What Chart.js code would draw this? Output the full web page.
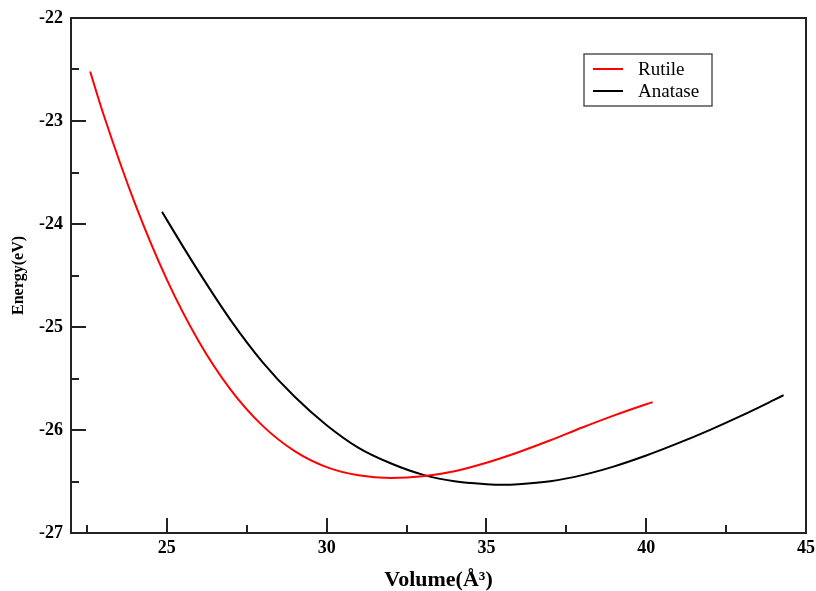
<!DOCTYPE html>
<html>
<head>
<meta charset="utf-8">
<script src="https://cdn.jsdelivr.net/npm/chart.js@4.4.1/dist/chart.umd.min.js"></script>
<style>
    html, body { margin: 0; padding: 0; background: #fff; }
    #wrap { width: 816px; height: 591px; }
</style>
</head>
<body>
<div id="wrap"><canvas id="eosChart" width="816" height="591"></canvas></div>
<script>
// Volume (A^3) / energy (eV)
const rutileV = [22.6, 23, 24, 25, 26, 27, 28, 29, 30, 31, 32, 33, 34, 35, 36, 37, 38, 39, 40, 40.2];
const rutileE = [-22.52, -22.92, -23.80, -24.54, -25.14, -25.61, -25.96, -26.205, -26.36, -26.44, -26.465, -26.45, -26.40, -26.318, -26.216, -26.10, -25.976, -25.858, -25.75, -25.73];

const anataseV = [24.85, 25, 26, 27, 28, 29, 30, 31, 32, 33, 34, 35, 35.5, 36, 37, 38, 39, 40, 41, 42, 43, 44, 44.3];
const anataseE = [-23.88, -23.96, -24.465, -24.935, -25.343, -25.678, -25.953, -26.173, -26.323, -26.433, -26.498, -26.526, -26.532, -26.527, -26.498, -26.438, -26.353, -26.248, -26.128, -25.998, -25.858, -25.708, -25.662];

// tick labels and minor ticks
const xMajor = [25, 30, 35, 40, 45];
const xMinor = [22.5, 27.5, 32.5, 37.5, 42.5];
const yMajor = [-27, -26, -25, -24, -23, -22];
const yMinor = [-26.5, -25.5, -24.5, -23.5, -22.5];

const serif = "'Liberation Serif', 'Times New Roman', serif";

function toPoints(xs, ys) {
    return xs.map((v, i) => ({ x: v, y: ys[i] }));
}

// frame, inward ticks and the boxed legend
const frameTicks = {
    id: "frameTicks",
    afterDatasetsDraw(chart) {
        const ctx = chart.ctx;
        const a = chart.chartArea;
        const xs = chart.scales.x;
        const ys = chart.scales.y;
        ctx.save();
        ctx.strokeStyle = "#222";
        ctx.lineWidth = 2;
        ctx.beginPath();
        xMajor.forEach((v) => {
            const px = Math.round(xs.getPixelForValue(v));
            ctx.moveTo(px, a.bottom);
            ctx.lineTo(px, a.bottom - 15);
        });
        xMinor.forEach((v) => {
            const px = Math.round(xs.getPixelForValue(v));
            ctx.moveTo(px, a.bottom);
            ctx.lineTo(px, a.bottom - 8);
        });
        yMajor.forEach((v) => {
            const py = Math.round(ys.getPixelForValue(v));
            ctx.moveTo(a.left, py);
            ctx.lineTo(a.left + 15, py);
        });
        yMinor.forEach((v) => {
            const py = Math.round(ys.getPixelForValue(v));
            ctx.moveTo(a.left, py);
            ctx.lineTo(a.left + 8, py);
        });
        ctx.stroke();
        ctx.strokeRect(a.left, a.top, a.right - a.left, a.bottom - a.top);

        // legend
        const bx = a.right - 222, by = a.top + 36, bw = 128, bh = 52;
        ctx.strokeStyle = "#555";
        ctx.lineWidth = 1.5;
        ctx.strokeRect(bx, by, bw, bh);
        ctx.font = "19px " + serif;
        ctx.textBaseline = "middle";
        ctx.fillStyle = "#000";
        chart.data.datasets.forEach((ds, i) => {
            const ly = by + 15 + i * 22;
            ctx.strokeStyle = ds.borderColor;
            ctx.lineWidth = 2;
            ctx.beginPath();
            ctx.moveTo(bx + 9, ly);
            ctx.lineTo(bx + 39, ly);
            ctx.stroke();
            ctx.fillText(ds.label, bx + 54, ly + 1);
        });
        ctx.restore();
    },
};

var ctx = document.getElementById("eosChart").getContext("2d");
var eosChart = new Chart(ctx, {
    type: "scatter",
    data: {
        datasets: [
            {
                label: "Rutile",
                data: toPoints(rutileV, rutileE),
                borderColor: "#ff0000",
                borderWidth: 2,
                showLine: true,
                pointRadius: 0,
                cubicInterpolationMode: "monotone",
            },
            {
                label: "Anatase",
                data: toPoints(anataseV, anataseE),
                borderColor: "#000000",
                borderWidth: 2,
                showLine: true,
                pointRadius: 0,
                cubicInterpolationMode: "monotone",
            },
        ],
    },
    options: {
        responsive: false,
        animation: false,
        layout: { padding: { top: 18, right: 10, left: 0, bottom: 0 } },
        plugins: {
            legend: { display: false },
            tooltip: { enabled: false },
        },
        scales: {
            x: {
                type: "linear",
                min: 22,
                max: 45,
                afterBuildTicks: (scale) => {
                    scale.ticks = xMajor.map((v) => ({ value: v }));
                },
                afterFit: (scale) => {
                    scale.height = 58;
                    scale.paddingLeft = 0;
                    scale.paddingRight = 0;
                },
                grid: { display: false, drawTicks: false },
                border: { display: false },
                ticks: {
                    padding: 5,
                    color: "#000",
                    maxRotation: 0,
                    font: { family: serif, size: 18, weight: "bold" },
                },
                title: {
                    display: true,
                    text: "Volume(Å³)",
                    color: "#000",
                    padding: 0,
                    font: { family: serif, size: 22, weight: "bold", lineHeight: 1 },
                },
            },
            y: {
                type: "linear",
                min: -27,
                max: -22,
                afterBuildTicks: (scale) => {
                    scale.ticks = yMajor.map((v) => ({ value: v }));
                },
                afterFit: (scale) => {
                    scale.width = 71;
                    scale.paddingTop = 0;
                    scale.paddingBottom = 0;
                },
                grid: { display: false, drawTicks: false },
                border: { display: false },
                ticks: {
                    padding: 8,
                    color: "#000",
                    font: { family: serif, size: 18, weight: "bold" },
                },
                title: {
                    display: true,
                    text: "Energy(eV)",
                    color: "#000",
                    padding: { top: 9 },
                    font: { family: serif, size: 16, weight: "bold", lineHeight: 1.2 },
                },
            },
        },
    },
    plugins: [frameTicks],
});
</script>
</body>
</html>
